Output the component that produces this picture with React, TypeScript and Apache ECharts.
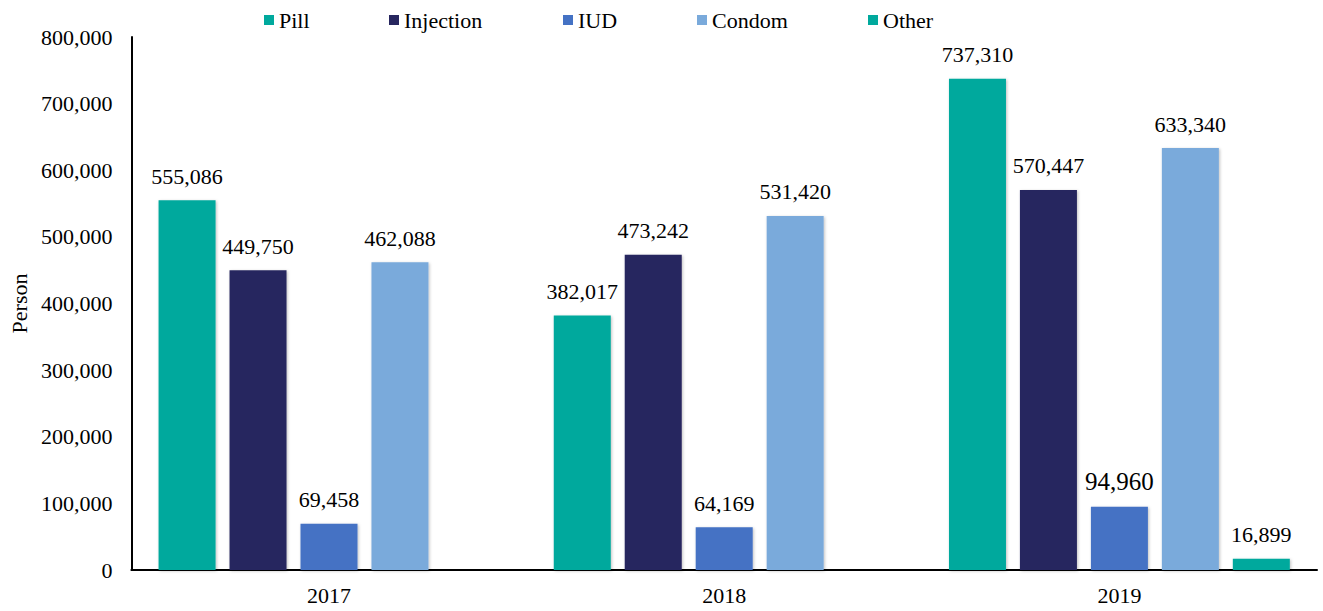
import React, { useEffect, useRef } from "react";
import * as echarts from "echarts";

const categories = ["2017", "2018", "2019"];
const seriesNames = ["Pill", "Injection", "IUD", "Condom", "Other"];
const pill = [555086, 382017, 737310];
const injection = [449750, 473242, 570447];
const iud = [69458, 64169, 94960];
const condom = [462088, 531420, 633340];
const other: (number | null)[] = [null, null, 16899];
const colors = ["#00A99D", "#27265F", "#4472C4", "#7AAADB", "#00A99D"];
const legendLefts = [264, 389, 563, 697, 868];

const FONT = "'Liberation Serif', 'Times New Roman', serif";

export default function App() {
  const ref = useRef<HTMLDivElement>(null);
  useEffect(() => {
    if (!ref.current) return;
    const chart = echarts.init(ref.current, undefined, { renderer: "svg" });
    const values = [pill, injection, iud, condom, other];
    const fmt = (v: number) => v.toLocaleString("en-US");
    chart.setOption({
      animation: false,
      textStyle: { fontFamily: FONT },
      legend: seriesNames.map((n, i) => ({
        data: [n],
        left: legendLefts[i],
        top: 9,
        padding: 0,
        itemWidth: 10,
        itemHeight: 10,
        itemGap: 0,
        icon: "rect",
        textStyle: { fontFamily: FONT, fontSize: 22, color: "#000" },
        selectedMode: false,
      })),
      grid: { left: 129, right: 6, top: 37, bottom: 41 },
      xAxis: {
        type: "category",
        data: categories,
        axisLine: { lineStyle: { color: "#000", width: 2 } },
        axisTick: { show: false },
        axisLabel: { color: "#000", fontFamily: FONT, fontSize: 22, margin: 14 },
      },
      yAxis: {
        type: "value",
        min: 0,
        max: 800000,
        interval: 100000,
        name: "Person",
        nameLocation: "middle",
        nameGap: 97,
        nameTextStyle: { color: "#000", fontFamily: FONT, fontSize: 22 },
        axisLine: { show: true, lineStyle: { color: "#000", width: 2 } },
        axisTick: { show: false },
        splitLine: { show: false },
        axisLabel: {
          color: "#000",
          fontFamily: FONT,
          fontSize: 22,
          margin: 19,
          formatter: (v: number) => fmt(v),
        },
      },
      series: seriesNames.map((n, i) => ({
        name: n,
        type: "bar",
        barWidth: 57,
        barGap: "24.5%",
        data: values[i].map((v, j) =>
          v === null
            ? null
            : {
                value: v,
                label: i === 2 && j === 2 ? { fontSize: 25 } : undefined,
              }
        ),
        itemStyle: {
          color: colors[i],
          shadowBlur: 3,
          shadowColor: "rgba(0,0,0,0.25)",
          shadowOffsetX: 1,
          shadowOffsetY: 1,
        },
        label: {
          show: true,
          position: "top",
          distance: 13,
          color: "#000",
          fontFamily: FONT,
          fontSize: 22,
          formatter: (p: any) => fmt(p.value),
        },
      })),
    });
    return () => chart.dispose();
  }, []);
  return <div ref={ref} style={{ width: 1323, height: 611, position: "absolute", left: 0, top: 0 }} />;
}
